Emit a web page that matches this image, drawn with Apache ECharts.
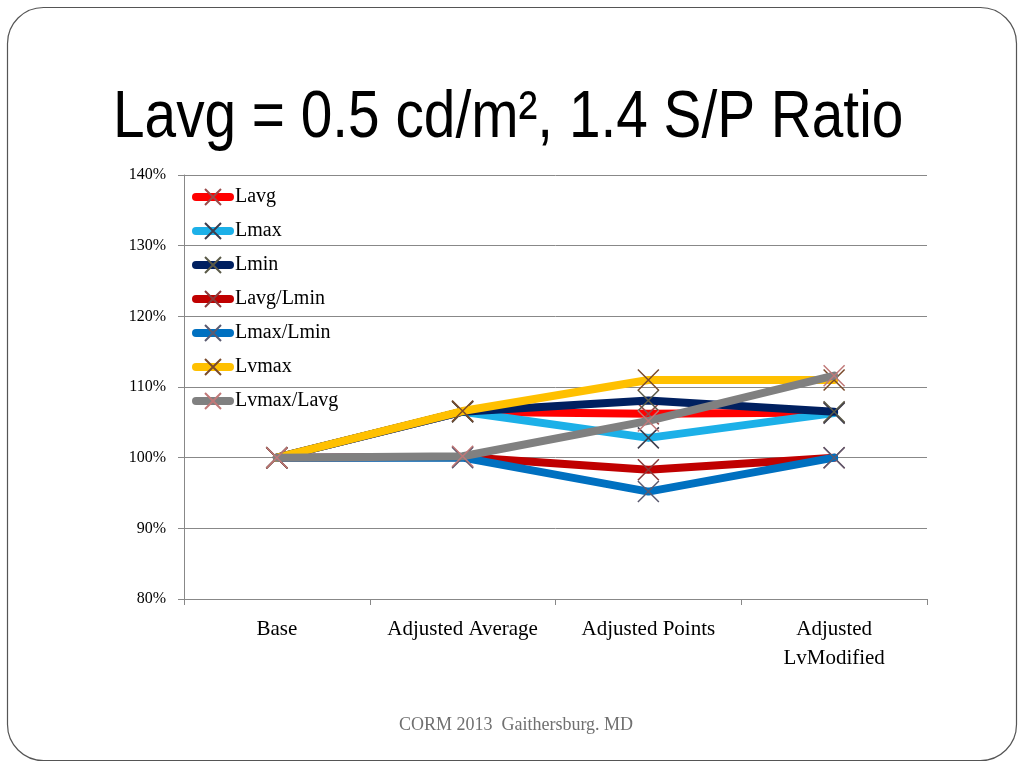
<!DOCTYPE html>
<html>
<head>
<meta charset="utf-8">
<script src="https://cdn.jsdelivr.net/npm/echarts@6/dist/echarts.min.js"></script>
<style>html,body{margin:0;padding:0;background:#fff}#c{width:1024px;height:768px}</style>
</head>
<body>
<div id="c"></div>
<script>
const categories = ['Base', 'Adjusted Average', 'Adjusted Points', 'Adjusted\nLvModified'];
const seriesNames = ['Lavg', 'Lmax', 'Lmin', 'Lavg/Lmin', 'Lmax/Lmin', 'Lvmax', 'Lvmax/Lavg'];
const lavg      = [1.000, 1.065, 1.062, 1.064];
const lmax      = [1.000, 1.065, 1.028, 1.063];
const lmin      = [1.000, 1.065, 1.081, 1.065];
const lavgLmin  = [1.000, 1.001, 0.983, 1.000];
const lmaxLmin  = [1.000, 1.000, 0.952, 1.000];
const lvmax     = [1.000, 1.066, 1.110, 1.110];
const lvmaxLavg = [1.000, 1.002, 1.052, 1.116];
const yTicks = [0.8, 0.9, 1.0, 1.1, 1.2, 1.3, 1.4];

const values = [lavg, lmax, lmin, lavgLmin, lmaxLmin, lvmax, lvmaxLavg];
const lineColors = ['#ff0000', '#1cb0e8', '#002060', '#c00000', '#0070c0', '#ffc000', '#808080'];
const markColors = ['#9a4a4a', '#3c3c4c', '#5a5a48', '#8a3a3a', '#5a5a70', '#7a4a2a', '#c07878'];
const xPath = 'path://M0,0L20,20M20,0L0,20';

const chart = echarts.init(document.getElementById('c'), null, {renderer: 'canvas'});
const serif = '"Liberation Serif", "DejaVu Serif", serif';

const series = seriesNames.map((n, i) => ({
  name: n,
  type: 'line',
  data: values[i],
  symbol: xPath,
  symbolSize: 21,
  showSymbol: true,
  lineStyle: {color: lineColors[i], width: 8, cap: 'round', join: 'round'},
  itemStyle: {color: 'rgba(0,0,0,0)', borderColor: markColors[i], borderWidth: 1.5},
  emphasis: {disabled: true},
  z: 2 + i
}));

chart.setOption({
  animation: false,
  backgroundColor: '#fff',
  graphic: [
    {type: 'rect', shape: {x: 7.5, y: 7.5, width: 1009, height: 753, r: 36},
     style: {fill: 'none', stroke: '#555', lineWidth: 1.2}, z: 0},
    {type: 'text', x: 113, y: 119, scaleX: 0.86, originX: 0,
     style: {text: 'Lavg = 0.5 cd/m², 1.4 S/P Ratio', fill: '#000',
       font: '66px "Liberation Sans", Arial, sans-serif', verticalAlign: 'middle', align: 'left'}, z: 10},
    {type: 'text', x: 516, y: 725,
     style: {text: 'CORM 2013  Gaithersburg. MD', fill: '#707070',
       font: '18px ' + serif, verticalAlign: 'middle', align: 'center'}, z: 10}
  ],
  grid: {left: 184, right: 97, top: 175, bottom: 169, containLabel: false},
  legend: {
    show: true,
    orient: 'vertical',
    left: 187,
    top: 182,
    itemGap: 14,
    itemWidth: 34,
    itemHeight: 20,
    data: seriesNames,
    lineStyle: {width: 8, cap: 'round'},
    textStyle: {fontFamily: serif, fontSize: 20, color: '#000'},
    selectedMode: false
  },
  xAxis: {
    type: 'category',
    data: categories,
    boundaryGap: true,
    axisLine: {lineStyle: {color: '#888', width: 1}},
    axisTick: {show: true, length: 6, interval: 0, lineStyle: {color: '#888'}},
    axisLabel: {fontFamily: serif, fontSize: 21, color: '#000', margin: 16, lineHeight: 29, interval: 0}
  },
  yAxis: {
    type: 'value',
    min: 0.8, max: 1.4, interval: 0.1,
    axisLine: {show: true, lineStyle: {color: '#888', width: 1}},
    axisTick: {show: true, length: 6, lineStyle: {color: '#888'}},
    splitLine: {show: true, lineStyle: {color: '#888', width: 1}},
    axisLabel: {fontFamily: serif, fontSize: 16, color: '#000', margin: 18,
      formatter: v => Math.round(v * 100) + '%'}
  },
  series: series
});
</script>
</body>
</html>
